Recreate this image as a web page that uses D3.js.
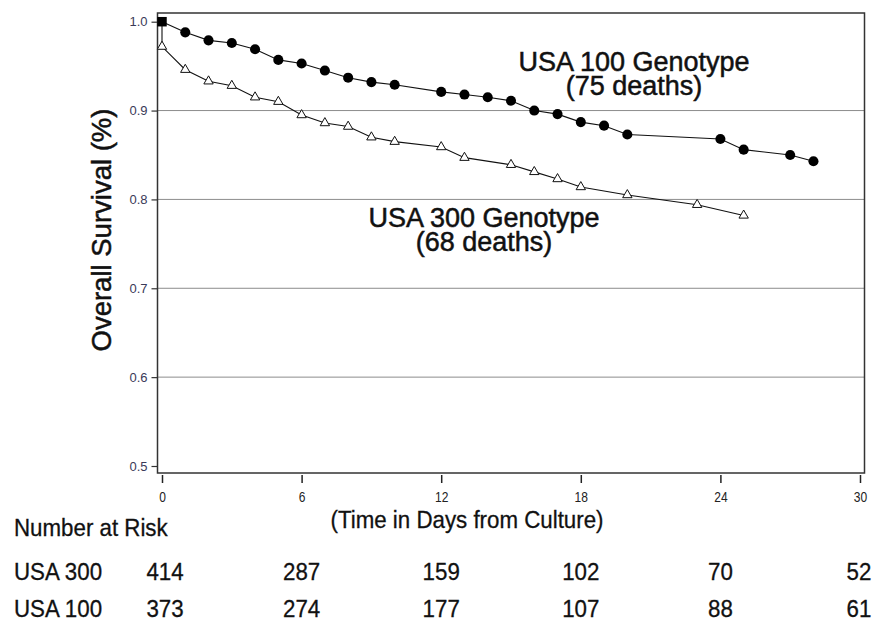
<!DOCTYPE html>
<html><head><meta charset="utf-8">
<script src="https://cdn.jsdelivr.net/npm/d3@7/dist/d3.min.js"></script>
<style>
body{margin:0;background:#fff;}
svg{display:block;}
</style></head>
<body>
<script>
// ---- data ----
const usa100Days = [0,1,2,3,4,5,6,7,8,9,10,12,13,14,15,16,17,18,19,20,24,25,27,28];
const usa100Surv = [1.0,0.988,0.979,0.976,0.969,0.957,0.953,0.945,0.937,0.932,0.929,0.921,0.918,0.915,0.911,0.900,0.896,0.887,0.883,0.873,0.868,0.856,0.850,0.843];
const usa300Days = [0,0,1,2,3,4,5,6,7,8,9,10,12,13,15,16,17,18,20,23,25];
const usa300Surv = [1.0,0.972,0.946,0.933,0.928,0.915,0.910,0.895,0.886,0.882,0.870,0.865,0.859,0.847,0.839,0.831,0.823,0.814,0.805,0.794,0.782];
const xTicks = [0,6,12,18,24,30];
const yTicks = [0.5,0.6,0.7,0.8,0.9,1.0];
const gridValues = [0.6,0.7,0.8,0.9];
const riskRows = ["USA 300","USA 100"];
const riskUSA300 = [414,287,159,102,70,52];
const riskUSA100 = [373,274,177,107,88,61];
const labels = {
  usa100: ["USA 100 Genotype","(75 deaths)"],
  usa300: ["USA 300 Genotype","(68 deaths)"],
  yTitle: "Overall Survival (%)",
  xTitle: "(Time in Days from Culture)",
  riskTitle: "Number at Risk"
};

// ---- layout ----
const W = 879, H = 627;
const frame = {l:157.5, r:864.5, t:13, b:473};
const sans = "'Liberation Sans',Arial,sans-serif";
const SQ = 0.86;  // condensing for tick labels
const SQT = 0.93; // condensing for table / x title

const x = d3.scaleLinear().domain([0,30]).range([162,860]);
const y = d3.scaleLinear().domain([0.5,1.0]).range([466,21.7]);

const svg = d3.select("body").append("svg").attr("width",W).attr("height",H);

// gridlines
svg.append("g").selectAll("line").data(gridValues).join("line")
  .attr("x1",frame.l).attr("x2",frame.r)
  .attr("y1",d=>y(d)).attr("y2",d=>y(d))
  .attr("stroke","#8c8c8c").attr("stroke-width",1);

// frame
svg.append("rect").attr("x",frame.l).attr("y",frame.t)
  .attr("width",frame.r-frame.l).attr("height",frame.b-frame.t)
  .attr("fill","none").attr("stroke","#333").attr("stroke-width",1.5);

// y axis
const ya = svg.append("g").attr("transform",`translate(${frame.l},0)`)
  .call(d3.axisLeft(y).tickValues(yTicks).tickFormat(d3.format(".1f")).tickSize(6).tickPadding(4));
ya.select(".domain").remove();
ya.selectAll(".tick line").attr("stroke","#333").attr("stroke-width",1.2);
ya.selectAll(".tick text").attr("font-family",sans).attr("font-size",13).attr("fill","#3a3a58");

// x axis
const xa = svg.append("g").attr("transform",`translate(0,${frame.b+2})`)
  .call(d3.axisBottom(x).tickValues(xTicks).tickSize(8).tickPadding(9));
xa.select(".domain").remove();
xa.selectAll(".tick line").attr("stroke","#222").attr("stroke-width",1.5);
xa.selectAll(".tick text").attr("font-family",sans).attr("font-size",14)
  .attr("fill","#222").attr("transform",`scale(${SQ},1)`);

// lines
const line = d3.line().x(d=>x(d[0])).y(d=>y(d[1]));
const d100 = usa100Days.map((d,i)=>[d,usa100Surv[i]]);
const d300 = usa300Days.map((d,i)=>[d,usa300Surv[i]]);
svg.append("path").datum(d300).attr("d",line).attr("fill","none").attr("stroke","#111").attr("stroke-width",1.1);
svg.append("path").datum(d100).attr("d",line).attr("fill","none").attr("stroke","#111").attr("stroke-width",1.1);

// markers USA300 (open triangles) - skip the initial 1.0 point
svg.append("g").selectAll("path").data(d300.slice(1)).join("path")
  .attr("d",d3.symbol().type(d3.symbolTriangle).size(38))
  .attr("transform",d=>`translate(${x(d[0])},${y(d[1])})`)
  .attr("fill","#fff").attr("stroke","#111").attr("stroke-width",1);

// markers USA100 (filled circles, square at start)
svg.append("g").selectAll("path").data(d100).join("path")
  .attr("d",(d,i)=>d3.symbol().type(i===0?d3.symbolSquare:d3.symbolCircle).size(i===0?90:80)())
  .attr("transform",d=>`translate(${x(d[0])},${y(d[1])})`)
  .attr("fill","#000");

// annotations
function annot(lines, cx, by){
  const t = svg.append("text").attr("font-family",sans).attr("font-size",27)
    .attr("fill","#111").attr("stroke","#111").attr("stroke-width",0.5)
    .attr("text-anchor","middle");
  lines.forEach((s,i)=>t.append("tspan").attr("x",cx).attr("y",by+i*24).text(s));
}
annot(labels.usa100, 634, 71);
annot(labels.usa300, 484, 227);

// y title
svg.append("text").attr("transform","translate(111,230) rotate(-90)")
  .attr("text-anchor","middle").attr("font-family",sans).attr("font-size",27.5)
  .attr("fill","#111").attr("stroke","#111").attr("stroke-width",0.5).text(labels.yTitle);

// condensed text helper
function ctext(str, tx, ty, anchor){
  return svg.append("text").attr("transform",`translate(${tx},${ty}) scale(${SQT},1)`)
    .attr("text-anchor",anchor||"start").attr("font-family",sans).attr("font-size",24)
    .attr("fill","#111").attr("stroke","#111").attr("stroke-width",0.3).text(str);
}

// x title
ctext(labels.xTitle, 467, 528, "middle");

// risk table
ctext(labels.riskTitle, 14, 536);
const riskData = [riskUSA300, riskUSA100];
const rowY = [580, 617];
riskRows.forEach((name,r)=>{
  ctext(name, 14, rowY[r]);
  riskData[r].forEach((v,i)=>{
    ctext(String(v), x(xTicks[i])+(i===0?3:(i===xTicks.length-1?-1:0)), rowY[r], "middle");
  });
});
</script>
</body></html>
